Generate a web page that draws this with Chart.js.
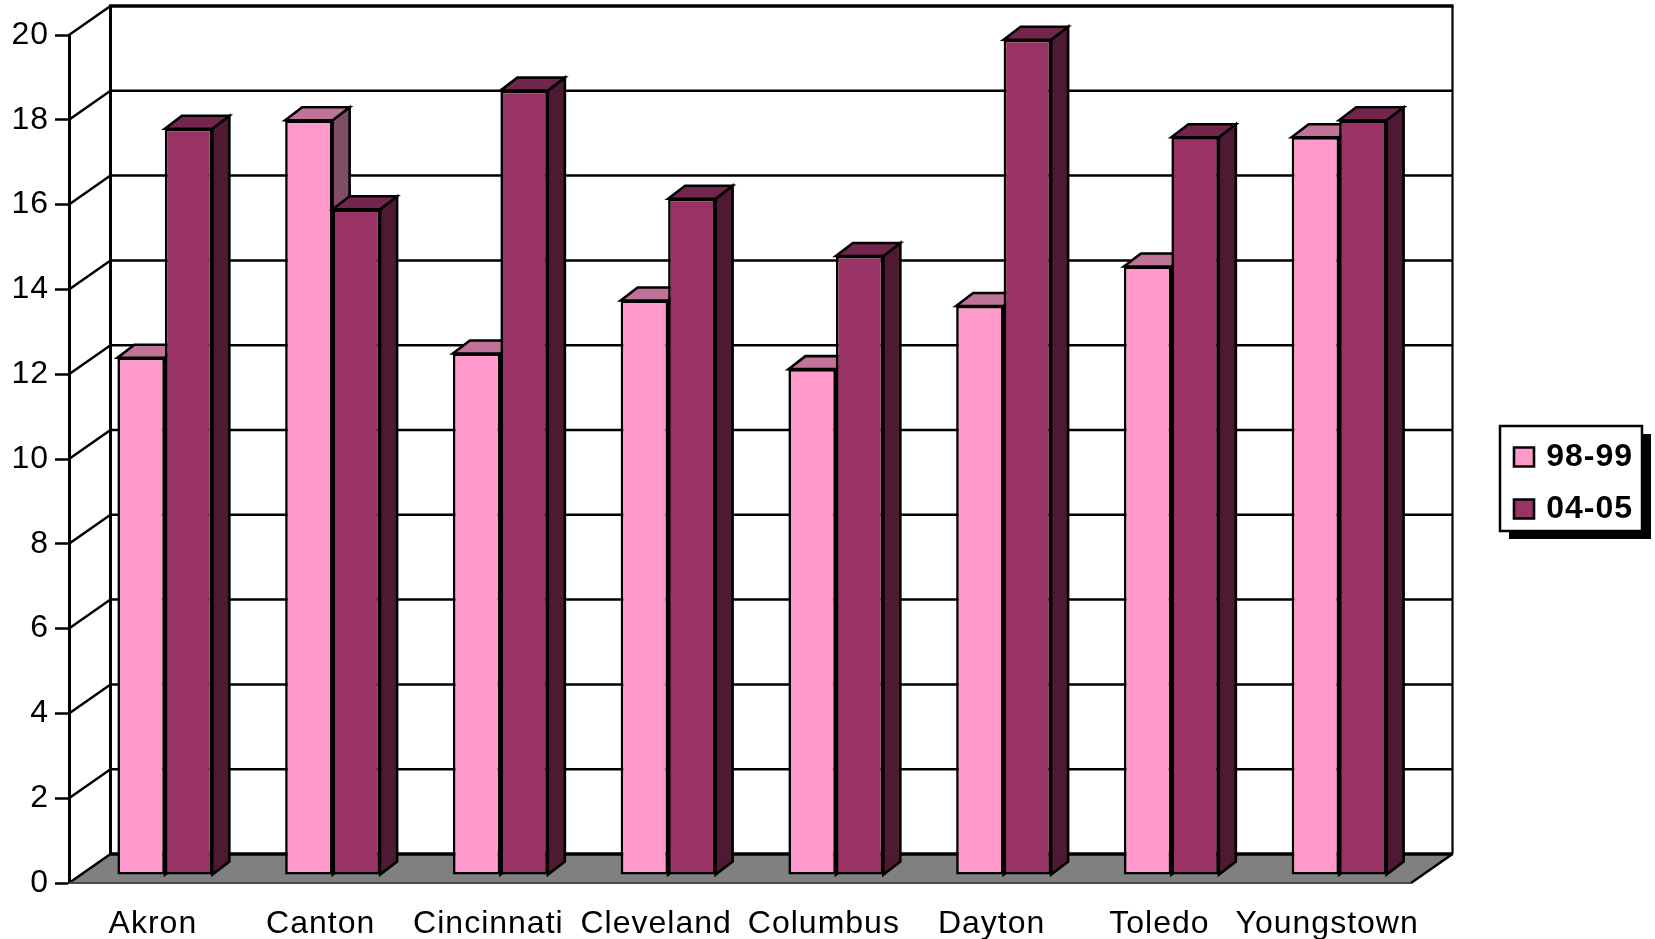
<!DOCTYPE html>
<html>
<head>
<meta charset="utf-8">
<style>html,body{margin:0;padding:0;background:#fff;overflow:hidden}canvas{display:block}</style>
<script src="https://cdn.jsdelivr.net/npm/chart.js@4"></script>
</head>
<body>
<canvas id="c" width="1655" height="939" style="width:1655px;height:939px"></canvas>
<script>
const categories = ['Akron','Canton','Cincinnati','Cleveland','Columbus','Dayton','Toledo','Youngstown'];
const series9899 = [12.2,17.8,12.3,13.55,11.93,13.42,14.35,17.4];
const series0405 = [17.6,15.7,18.5,15.95,14.6,19.7,17.4,17.8];
const seriesNames = ['98-99','04-05'];
const FONT = '"Liberation Sans", Arial, sans-serif';
const frontColors = ['#FF99CC','#993366'];
const topColors = ['#BF7399','#73264D'];
const sideColors = ['#804D66','#4D1933'];
const WALL = {dx:41.5, dy:-29};
const BAR = {ox:12, oy:-8, dx:17, dy:-13};

function poly(ctx, pts, fill, lw){
  ctx.beginPath();
  pts.forEach((p,i)=> i ? ctx.lineTo(p[0],p[1]) : ctx.moveTo(p[0],p[1]));
  ctx.closePath();
  if (fill){ ctx.fillStyle = fill; ctx.fill(); }
  if (lw){ ctx.lineWidth = lw; ctx.strokeStyle = '#000'; ctx.lineJoin='miter'; ctx.stroke(); }
}
function line(ctx,x1,y1,x2,y2,lw,col){
  ctx.beginPath(); ctx.moveTo(x1,y1); ctx.lineTo(x2,y2);
  ctx.lineWidth = lw; ctx.strokeStyle = col || '#000'; ctx.stroke();
}

const chart3d = {
  id:'chart3d',
  afterLayout(chart){
    const l = chart.legend;
    l.left = 1494; l.right = 1633; l.top = 421; l.bottom = 560;
  },
  beforeDraw(chart){
    const ctx = chart.ctx;
    ctx.save();
    ctx.fillStyle = '#fff'; ctx.fillRect(0,0,chart.width,chart.height);
    ctx.fillStyle = '#000'; ctx.fillRect(1509,434,142,105);
    ctx.fillStyle = '#fff'; ctx.fillRect(1500,426,142,105);
    ctx.lineWidth = 2.5; ctx.strokeStyle = '#000'; ctx.strokeRect(1500,426,142,105);
    ctx.restore();
    ctx.letterSpacing = '1px';
  },
  beforeDatasetsDraw(chart){
    const ctx = chart.ctx, a = chart.chartArea, y = chart.scales.y;
    const xb = a.left + WALL.dx, xr = a.right + WALL.dx, top = a.top + WALL.dy, bot = a.bottom + WALL.dy;
    ctx.save();
    // floor
    poly(ctx, [[a.left,a.bottom],[xb,bot],[xr,bot],[a.right,a.bottom]], '#808080', 0);
    // grid on side and back wall
    y.ticks.forEach(t=>{
      const py = y.getPixelForValue(t.value);
      if (t.value !== 0) line(ctx, a.left, py, xb, py + WALL.dy, 2.5);
      if (t.value !== 0 && t.value !== 20) line(ctx, xb, py + WALL.dy, xr, py + WALL.dy, 2.5);
    });
    line(ctx, a.left, a.bottom, xb, bot, 2.5);
    line(ctx, a.right, a.bottom, xr, bot, 2.5);
    line(ctx, a.left, a.bottom, a.right, a.bottom, 2, '#4a4a4a');
    line(ctx, xb, bot, xr, bot, 3.5);
    line(ctx, xb-1.5, top, xr+1, top, 3.5);
    line(ctx, xb, top, xb, bot, 3);
    line(ctx, xr, top, xr, bot, 2.2);
    // bars
    ctx.translate(BAR.ox, BAR.oy);
    chart.data.datasets.forEach((ds,di)=>{
      chart.getDatasetMeta(di).data.forEach(el=>{
        const p = el.getProps(['x','y','base','width'], true);
        const L = p.x - p.width/2, R = p.x + p.width/2, T = p.y, B = p.base;
        poly(ctx, [[R,T],[R+BAR.dx,T+BAR.dy],[R+BAR.dx,B+BAR.dy],[R,B]], sideColors[di], 2.6);
        poly(ctx, [[L,T],[L+BAR.dx,T+BAR.dy],[R+BAR.dx,T+BAR.dy],[R,T]], topColors[di], 2.6);
        el.draw(ctx, chart.chartArea);
      });
    });
    ctx.restore();
    return false;
  }
};

new Chart(document.getElementById('c').getContext('2d'), {
  type:'bar',
  data:{
    labels:categories,
    datasets:[
      {label:seriesNames[0], data:series9899, backgroundColor:frontColors[0], borderColor:'#000', borderWidth:2.6, borderSkipped:false, barPercentage:1, categoryPercentage:0.566},
      {label:seriesNames[1], data:series0405, backgroundColor:frontColors[1], borderColor:'#000', borderWidth:2.6, borderSkipped:false, barPercentage:1, categoryPercentage:0.566}
    ]
  },
  plugins:[chart3d],
  options:{
    responsive:false,
    animation:false,
    layout:{autoPadding:false, padding:{top:35,right:244,bottom:0,left:0}},
    plugins:{
      title:{display:false}, tooltip:{enabled:false},
      legend:{
        display:true, position:'chartArea', align:'start',
        labels:{boxWidth:20, boxHeight:19, padding:20, color:'#000', textAlign:'right',
                font:{family:FONT, size:32, weight:'bold'}}
      }
    },
    scales:{
      x:{
        afterFit(s){ s.height = 56; },
        grid:{display:false},
        border:{display:false},
        ticks:{color:'#000', font:{family:FONT,size:32}, padding:14, maxRotation:0, autoSkip:false}
      },
      y:{
        min:0, max:20,
        afterFit(s){ s.width = 69; },
        grid:{drawOnChartArea:false, drawTicks:true, tickLength:14, tickColor:'#000', tickWidth:2.5},
        border:{display:true, color:'#000', width:3},
        ticks:{stepSize:2, color:'#000', padding:6, font:{family:FONT,size:32}}
      }
    }
  }
});
</script>
</body>
</html>
